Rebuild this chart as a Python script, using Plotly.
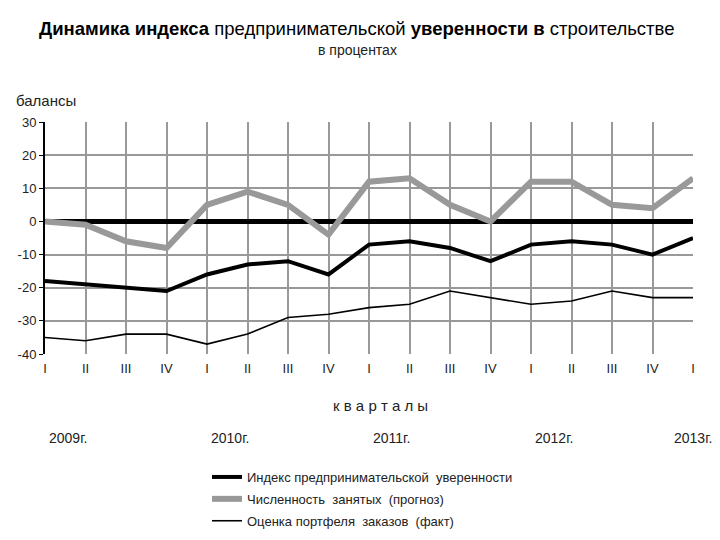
import plotly.graph_objects as go

quarters = ["I", "II", "III", "IV"] * 4 + ["I"]
years = ["2009г.", "2010г.", "2011г.", "2012г.", "2013г."]
year_pos = [0, 4, 8, 12, 16]
y_ticks = [30, 20, 10, 0, -10, -20, -30, -40]
y_ticktext = ["30", "20", "10", "0", "-10", "-20", "-30", "-40"]

index_conf = [-18, -19, -20, -21, -16, -13, -12, -16, -7, -6, -8, -12, -7, -6, -7, -10, -5]
employment = [0, -1, -6, -8, 5, 9, 5, -4, 12, 13, 5, 0, 12, 12, 5, 4, 13]
orders = [-35, -36, -34, -34, -37, -34, -29, -28, -26, -25, -21, -23, -25, -24, -21, -23, -23]

names = ["Индекс предпринимательской  уверенности",
         "Численность  занятых  (прогноз)",
         "Оценка портфеля  заказов  (факт)"]

FONT = "Liberation Sans Narrow, Arial Narrow, Liberation Sans, Arial, sans-serif"
x = list(range(len(quarters)))

W, H = 720, 540
L, R, T, B = 45, 27, 122, 186
pw, ph = W - L - R, H - T - B


def px_x(p):
    return (p - L) / pw


def px_y(p):
    return 1 - (p - T) / ph


fig = go.Figure()
fig.add_trace(go.Scatter(x=x, y=index_conf, mode="lines", name=names[0],
                         line=dict(color="black", width=4), legendgroup="a"))
fig.add_trace(go.Scatter(x=x, y=employment, mode="lines", name=names[1],
                         line=dict(color="#999999", width=6), legendgroup="b"))
fig.add_trace(go.Scatter(x=x, y=orders, mode="lines", name=names[2],
                         line=dict(color="black", width=1.6), legendgroup="c"))

annotations = [
    dict(text="<b>Динамика индекса</b> предпринимательской <b>уверенности в</b> строительстве",
         x=px_x(357), y=px_y(28), xanchor="center",
         font=dict(size=18.5, color="black", family=FONT)),
    dict(text="в процентах", x=px_x(357), y=px_y(50), xanchor="center",
         font=dict(size=14, color="#222", family=FONT)),
    dict(text="балансы", x=px_x(14), y=px_y(100), xanchor="left",
         font=dict(size=15, color="#222", family=FONT)),
    dict(text="к в а р т а л ы", x=px_x(380), y=px_y(405), xanchor="center",
         font=dict(size=15, color="#222", family=FONT)),
]
for a in annotations:
    a.update(xref="paper", yref="paper", showarrow=False, yanchor="middle")

for i, (yr, p) in enumerate(zip(years, year_pos)):
    last = i == len(years) - 1
    annotations.append(dict(text=yr, x=p, xref="x", y=px_y(438), yref="paper",
                            showarrow=False, xanchor="right" if last else "left",
                            xshift=21 if last else 2, yanchor="middle",
                            font=dict(size=14, color="#222", family=FONT)))

fig.update_layout(
    width=W, height=H,
    margin=dict(l=L, r=R, t=T, b=B, autoexpand=False),
    paper_bgcolor="white", plot_bgcolor="white",
    annotations=annotations,
    font=dict(family=FONT, color="#222"),
    legend=dict(x=px_x(207), y=px_y(462), xanchor="left", yanchor="top",
                font=dict(size=13, color="#222", family=FONT),
                tracegroupgap=2, itemwidth=30, bgcolor="rgba(0,0,0,0)"),
    showlegend=True,
    xaxis=dict(range=[0, 16], tickvals=x, ticktext=quarters, showgrid=True,
               gridcolor="#999999", gridwidth=1.5, zeroline=False, showline=False,
               tickfont=dict(size=13, color="#222", family=FONT), ticks="",
               ticklabelstandoff=5),
    yaxis=dict(range=[-40, 30], tickvals=y_ticks, ticktext=y_ticktext, showgrid=True,
               gridcolor="#999999", gridwidth=1.5, zeroline=True, zerolinecolor="black",
               zerolinewidth=5, showline=True, linecolor="black", linewidth=2,
               ticks="outside", ticklen=4, tickcolor="black",
               tickfont=dict(size=13, color="#222", family=FONT)),
)

fig.write_html("out.html", config={"displayModeBar": False},
               post_script="document.body.style.margin='0';")
